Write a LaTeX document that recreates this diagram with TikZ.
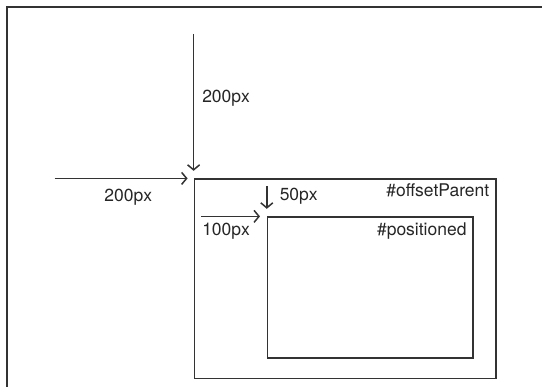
\documentclass[tikz,border=0pt]{standalone}
\usepackage{fontspec}
\setmainfont{TeX Gyre Heros}
\usetikzlibrary{arrows.meta, positioning}

\begin{document}
\begin{tikzpicture}[
				x=1pt, y=-1pt,
				line width=1.5pt,
				every node/.style={inner sep=0pt, font=\fontsize{17.5}{20}\selectfont, text=black!85},
				box/.style={draw=black!80, anchor=north west},
				arrow/.style={-{Straight Barb[length=5pt, width=12pt]}, draw=black!80},
				lbl/.style={anchor=base west}
			]

			\useasboundingbox (0,0) rectangle (542,387);

			% page frame (cut off at right and bottom)
			\draw[black!80] (7,387) -- (7,7) -- (542,7);

			% boxes
			\node[box, minimum width=301.4pt, minimum height=199.6pt] (parent) at (193.6,178.4) {};
			\node[box, minimum width=205.2pt, minimum height=141pt] (pos) at (266.8,216.4) {};

			\node[anchor=base east] (parentlbl) at (490,197) {\#offsetParent};
			\node[anchor=base east] (poslbl) at (467.3,235.5) {\#positioned};

			% offsets
			\coordinate (vtop) at (193.6,33.9);
			\coordinate (hleft) at (54.6,178.4);
			\coordinate (stop) at (266.8,186);
			\coordinate (sleft) at (201,216.4);

			\draw[arrow, shorten >=7.6pt] (vtop) -- (parent.north west);
			\draw[arrow, shorten >=6pt] (hleft) -- (parent.north west);
			\draw[arrow, shorten >=7.6pt] (stop) -- (pos.north west);
			\draw[arrow, shorten >=6.8pt] (sleft) -- (pos.north west);

			\node[lbl] (toplbl) at (201.5,102.8) {200px};
			\node[lbl] (leftlbl) at (103.7,201.3) {200px};
			\node[lbl] (ptop) at (279,200.6) {50px};
			\node[lbl] (pleft) at (201.5,235.9) {100px};

		\end{tikzpicture}
\end{document}
